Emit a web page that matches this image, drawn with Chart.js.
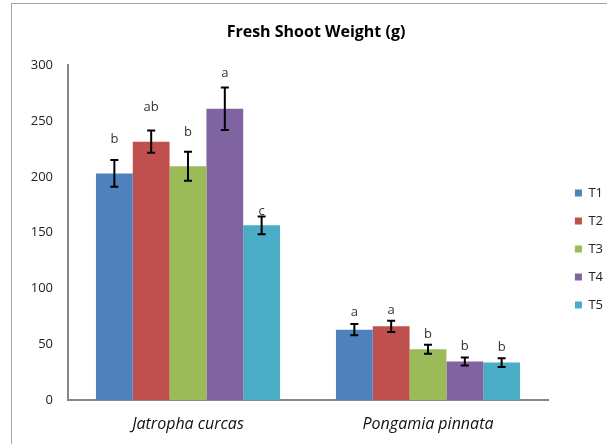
<!DOCTYPE html>
<html><head><meta charset="utf-8">
<script src="https://cdn.jsdelivr.net/npm/chart.js@4.4.1/dist/chart.umd.min.js"></script>
<style>
html,body{margin:0;padding:0;width:607px;height:444px;overflow:hidden;background:#fff;}
#frame{position:absolute;left:11px;top:3px;width:640px;height:480px;border-left:1px solid #a3a3a3;border-top:1px solid #a3a3a3;}
#wrap{position:absolute;left:19px;top:0;width:594px;height:498px;}
</style></head><body>
<div id="frame"></div>
<div id="wrap"><canvas id="c" width="594" height="498"></canvas></div>
<script>
// ---- data ----
const categories = ['Jatropha curcas', 'Pongamia pinnata'];
const seriesNames = ['T1', 'T2', 'T3', 'T4', 'T5'];
const seriesColors = ['#4F81BD', '#C0504D', '#9BBB59', '#8064A2', '#4BACC6'];
const T1 = [203, 63];
const T2 = [231.5, 66];
const T3 = [209.5, 45.5];
const T4 = [261, 34.5];
const T5 = [156.5, 33.5];
const T1err = [12, 5];
const T2err = [10, 5];
const T3err = [13, 4];
const T4err = [19, 3.5];
const T5err = [8, 4];
const T1letters = ['b', 'a'];
const T2letters = ['ab', 'a'];
const T3letters = ['b', 'b'];
const T4letters = ['a', 'b'];
const T5letters = ['c', 'b'];
// letter baseline positions in data units
const T1letterAt = [230.6, 75];
const T2letterAt = [258.8, 77];
const T3letterAt = [236.4, 55.3];
const T4letterAt = [289.2, 44.5];
const T5letterAt = [165.9, 43.9];
const yTicks = [0, 50, 100, 150, 200, 250, 300];
const chartTitle = 'Fresh Shoot Weight (g)';

const values = [T1, T2, T3, T4, T5];
const errors = [T1err, T2err, T3err, T4err, T5err];
const letters = [T1letters, T2letters, T3letters, T4letters, T5letters];
const letterAt = [T1letterAt, T2letterAt, T3letterAt, T4letterAt, T5letterAt];

const CW = 594;

const annot = {
  id: 'annot',
  afterDatasetsDraw(chart) {
    const ctx = chart.ctx, y = chart.scales.y;
    chart.data.datasets.forEach((ds, i) => {
      const meta = chart.getDatasetMeta(i);
      meta.data.forEach((bar, j) => {
        const v = ds.data[j], e = errors[i][j];
        const yt = y.getPixelForValue(v + e), yb = y.getPixelForValue(v - e);
        ctx.save();
        ctx.strokeStyle = '#000';
        ctx.lineWidth = 2;
        ctx.beginPath();
        ctx.moveTo(bar.x, yt); ctx.lineTo(bar.x, yb);
        ctx.moveTo(bar.x - 4, yt); ctx.lineTo(bar.x + 4, yt);
        ctx.moveTo(bar.x - 4, yb); ctx.lineTo(bar.x + 4, yb);
        ctx.stroke();
        ctx.fillStyle = '#333';
        ctx.font = '13px "Open Sans"';
        ctx.textAlign = 'center';
        ctx.textBaseline = 'alphabetic';
        ctx.fillText(letters[i][j], bar.x, y.getPixelForValue(letterAt[i][j]));
        ctx.restore();
      });
    });
    // category labels (x scale, drawn on layer z=1) get slight letter spacing
    if ('letterSpacing' in ctx) ctx.letterSpacing = '0.6px';
  },
  afterDraw(chart) {
    if ('letterSpacing' in chart.ctx) chart.ctx.letterSpacing = '0px';
  }
};

new Chart(document.getElementById('c'), {
  type: 'bar',
  data: {
    labels: categories,
    datasets: seriesNames.map((n, i) => ({
      label: n,
      data: values[i],
      backgroundColor: seriesColors[i],
      borderWidth: 0,
      categoryPercentage: 0.767,
      barPercentage: 1.0
    }))
  },
  options: {
    responsive: false,
    animation: false,
    devicePixelRatio: 1,
    layout: { padding: 0 },
    plugins: {
      tooltip: { enabled: false },
      title: {
        display: true,
        text: chartTitle,
        color: '#000',
        font: { family: 'Open Sans', size: 16, weight: 'bold' },
        padding: { top: 23, bottom: 23 }
      },
      legend: {
        position: 'right',
        labels: {
          boxWidth: 7, boxHeight: 7, padding: 15,
          color: '#222',
          font: { family: 'Open Sans', size: 13 }
        }
      }
    },
    scales: {
      x: {
        z: 1,
        grid: { display: false, drawTicks: false },
        border: { display: true, color: '#868686', width: 2 },
        ticks: { color: '#111', padding: 15, font: { family: 'Open Sans', size: 16, style: 'italic' } },
        afterFit(s) { s.height = 98; }
      },
      y: {
        min: 0, max: 300,
        afterBuildTicks(s) { s.ticks = yTicks.map(v => ({ value: v })); },
        grid: { display: false, drawTicks: false },
        border: { display: true, color: '#868686', width: 2 },
        ticks: { color: '#222', padding: 15, font: { family: 'Open Sans', size: 13 } },
        afterFit(s) { s.width = 49; }
      },
      yr: {
        type: 'linear', position: 'right', display: true,
        grid: { display: false, drawTicks: false },
        border: { display: false },
        ticks: { display: false },
        afterFit(s) { const lg = s.chart.legend; s.width = Math.max(0, CW - (lg ? lg.width : 58) - 529); }
      }
    }
  },
  plugins: [annot]
});
</script>
</body></html>
